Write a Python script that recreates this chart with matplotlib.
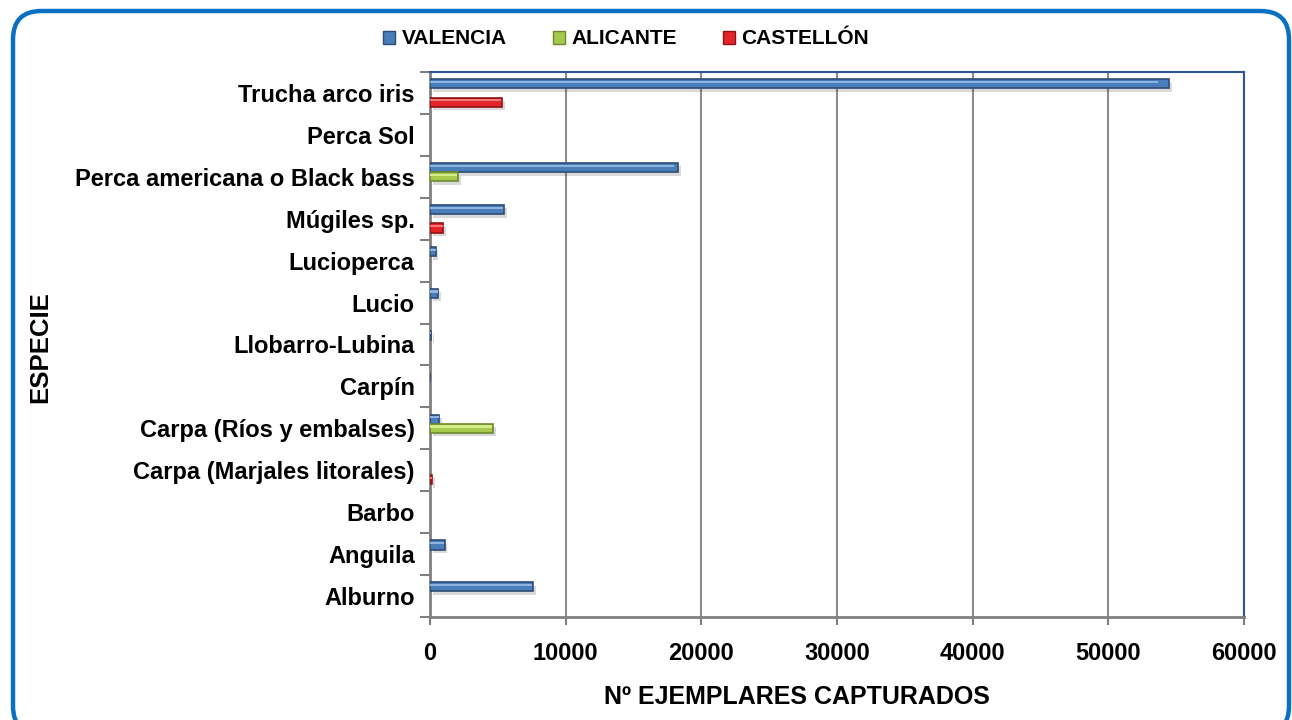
import numpy as np
import matplotlib
matplotlib.use("Agg")
import matplotlib.pyplot as plt
import matplotlib.patheffects as pe
from matplotlib.patches import FancyBboxPatch, Patch

plt.rcParams['font.family'] = ['Liberation Sans', 'DejaVu Sans']
plt.rcParams['font.weight'] = 'bold'

# species, bottom to top
especies = ["Alburno", "Anguila", "Barbo", "Carpa (Marjales litorales)",
            "Carpa (Ríos y embalses)", "Carpín", "Llobarro-Lubina", "Lucio",
            "Lucioperca", "Múgiles sp.", "Perca americana o Black bass",
            "Perca Sol", "Trucha arco iris"]
valencia = [7620, 1080, 0, 0, 650, 30, 100, 570, 420, 5450, 18280, 0, 54500]
alicante = [0, 0, 0, 0, 4650, 0, 0, 0, 0, 0, 2050, 0, 0]
castellon = [0, 0, 0, 180, 0, 0, 0, 0, 0, 950, 0, 0, 5290]
series = ["VALENCIA", "ALICANTE", "CASTELLÓN"]
colores = ["#4A7EBB", "#A6C94E", "#E3252B"]
bordes = ["#2C4D75", "#6E8A2E", "#8E1414"]
claros = ["#8FB3E0", "#D4EC8C", "#F47A7E"]

fig = plt.figure(figsize=(12.92, 7.2), dpi=100)

# rounded blue frame
frame = FancyBboxPatch((13 / 1292, -0.02), 1276 / 1292, 1 - 11 / 720 + 0.02,
                       boxstyle="round,pad=0,rounding_size=0.022",
                       transform=fig.transFigure, fill=False,
                       edgecolor="#0A70C4", linewidth=3.2, mutation_aspect=1292 / 720)
fig.patches.append(frame)

ax = fig.add_axes([430 / 1292, 1 - 617 / 720, 814 / 1292, 545 / 720])

y = np.arange(len(especies))
h = 0.22
offs = [h, 0, -h]
sombra = [pe.SimplePatchShadow(offset=(2, -2.5), alpha=0.2, shadow_rgbFace="#444444"), pe.Normal()]
for vals, off, c, b, cl in zip([valencia, alicante, castellon], offs, colores, bordes, claros):
    vals = np.array(vals)
    m = vals > 0
    bars = ax.barh(y[m] + off, vals[m], height=h, color=c, edgecolor=b, linewidth=1.2, zorder=3)
    for bar in bars:
        bar.set_path_effects(sombra)
    # highlight stripe for bevel look
    ax.barh(y[m] + off + h * 0.2, vals[m] * 0.985, height=h * 0.22,
            color=cl, linewidth=0, zorder=4)

ax.set_xlim(0, 60000)
ax.set_ylim(-0.5, len(especies) - 0.5)
ax.set_xticks(np.arange(0, 60001, 10000))
ax.set_yticks(y)
ax.set_yticklabels(especies, fontsize=17, fontweight='bold')
ax.set_yticks(np.arange(-0.5, len(especies), 1), minor=True)
ax.tick_params(axis='y', which='major', length=0, pad=11)
ax.tick_params(axis='y', which='minor', length=7, width=1.5, color="#808080", direction='out')
ax.tick_params(axis='x', length=6, width=1.5, color="#808080", direction='out', pad=12,
               labelsize=17)
for lab in ax.get_xticklabels():
    lab.set_fontweight('bold')

ax.grid(axis='x', color="#8C8C8C", linewidth=1.5, zorder=0)
ax.set_axisbelow(True)
ax.spines['left'].set_color("#808080")
ax.spines['left'].set_linewidth(2)
ax.spines['bottom'].set_color("#808080")
ax.spines['bottom'].set_linewidth(2)
ax.spines['top'].set_color("#2F5597")
ax.spines['top'].set_linewidth(1.5)
ax.spines['right'].set_color("#2F5597")
ax.spines['right'].set_linewidth(1.5)

fig.text(797 / 1292, 1 - 697 / 720, "Nº EJEMPLARES CAPTURADOS", ha='center', va='center',
         fontsize=18, fontweight='bold')
fig.text(40 / 1292, 1 - 347 / 720, "ESPECIE", ha='center', va='center', rotation=90,
         fontsize=18.5, fontweight='bold')

handles = [Patch(facecolor=c, edgecolor=b, linewidth=1) for c, b in zip(colores, bordes)]
fig.legend(handles, series, loc='center', bbox_to_anchor=(626 / 1292, 1 - 39 / 720), ncol=3,
           frameon=False, prop={'weight': 'bold', 'size': 15}, handlelength=0.6,
           handleheight=0.6, handletextpad=0.3, columnspacing=2.2)

fig.savefig("out.png", dpi=100)
